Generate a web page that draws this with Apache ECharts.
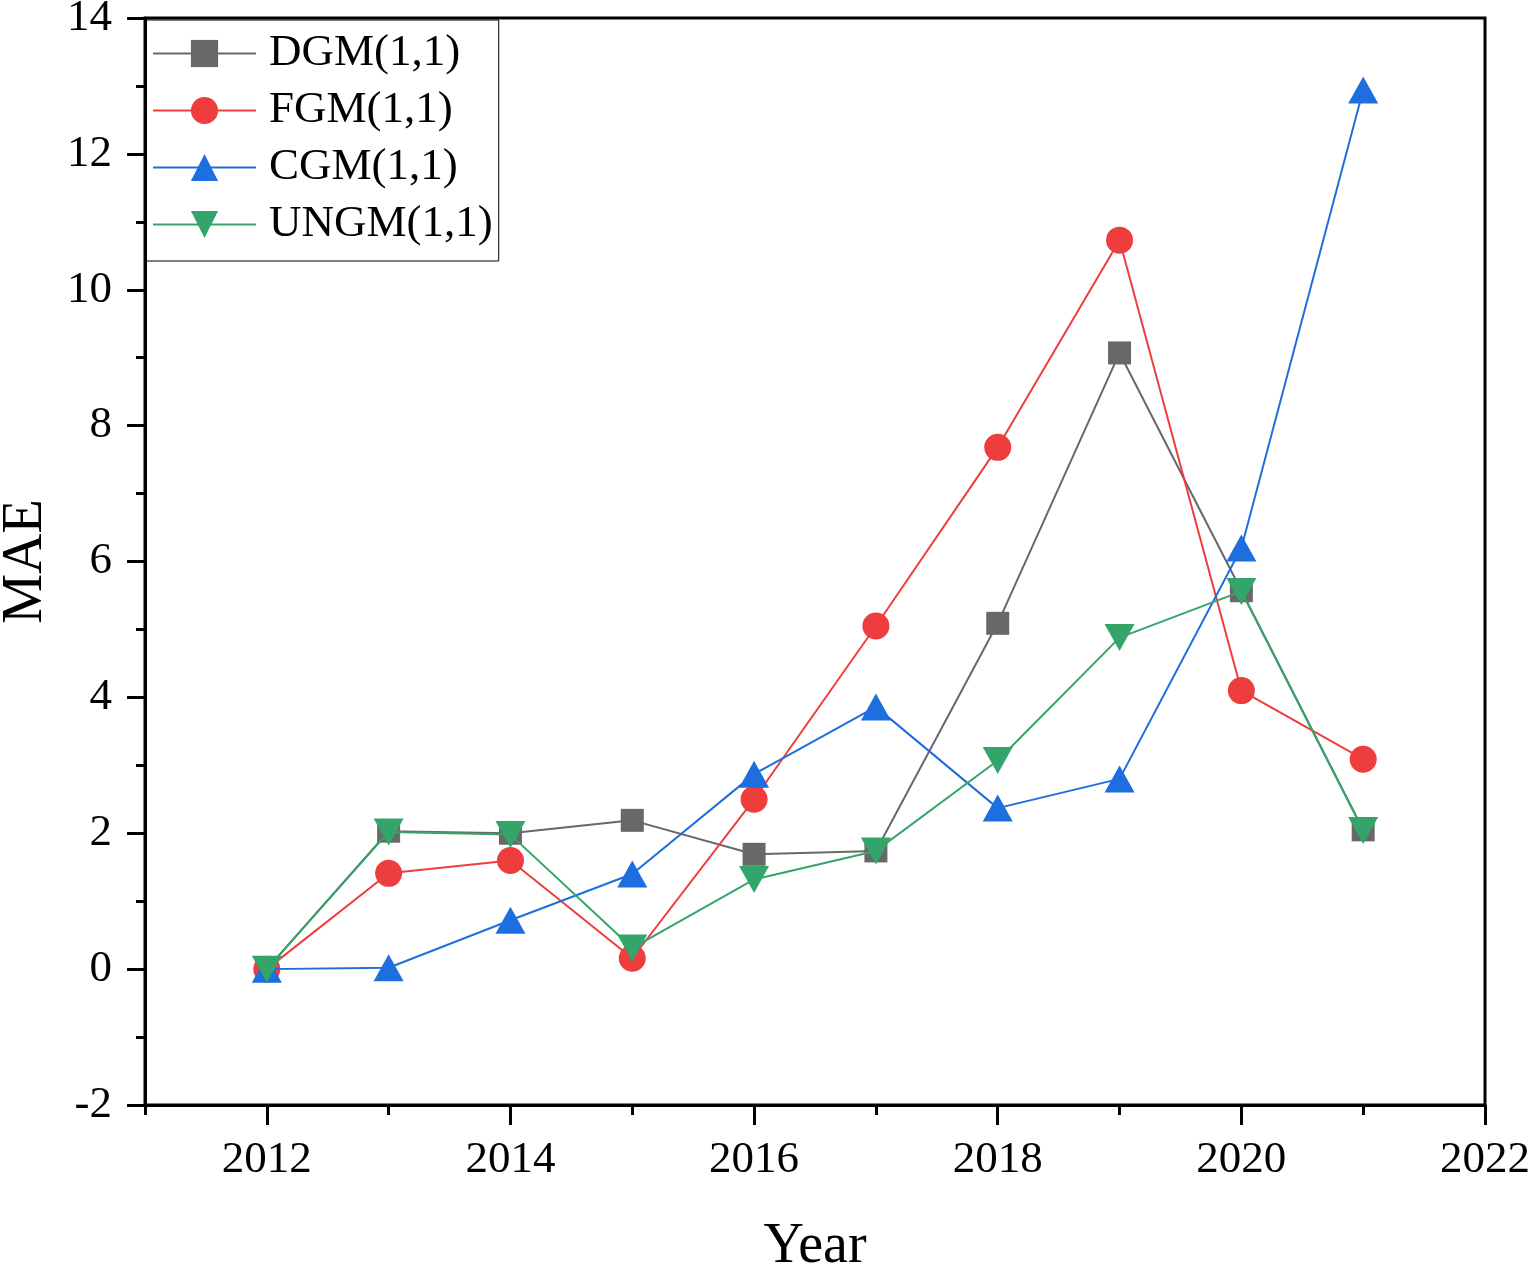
<!DOCTYPE html>
<html>
<head>
<meta charset="utf-8">
<script src="https://cdn.jsdelivr.net/npm/echarts@6/dist/echarts.min.js"></script>
<style>
html,body{margin:0;padding:0;background:#fff;}
#chart{width:1530px;height:1266px;}
</style>
</head>
<body>
<div id="chart"></div>
<script>
const years = [2012, 2013, 2014, 2015, 2016, 2017, 2018, 2019, 2020, 2021];
const dgm  = [0, 2.03, 2.00, 2.19, 1.69, 1.74, 5.09, 9.07, 5.57, 2.05];
const fgm  = [0, 1.41, 1.60, 0.16, 2.50, 5.05, 7.68, 10.73, 4.10, 3.09];
const cgm  = [0, 0.02, 0.72, 1.40, 2.87, 3.86, 2.37, 2.80, 6.20, 12.94];
const ungm = [0, 2.02, 1.98, 0.31, 1.32, 1.74, 3.07, 4.88, 5.56, 2.04];
const seriesNames = ['DGM(1,1)', 'FGM(1,1)', 'CGM(1,1)', 'UNGM(1,1)'];
const majorX = [2012, 2014, 2016, 2018, 2020, 2022];
const minorX = [2011, 2013, 2015, 2017, 2019, 2021];

const font = 'Liberation Serif, Times New Roman, serif';
const colors = ['#686868', '#ee3d3d', '#1d6ede', '#34a56a'];
const symbols = ['rect', 'circle', 'triangle', 'path://M0,0 L10,0 L5,9 Z'];
const sizes = [[23,23], 27, [30,27], [30,27]];
const datasets = [dgm, fgm, cgm, ungm];

const chart = echarts.init(document.getElementById('chart'));
chart.setOption({
  animation: false,
  backgroundColor: '#fff',
  grid: {left: 145, right: 45, top: 18, bottom: 161, containLabel: false, outerBoundsMode: 'none',
         show: true, borderColor: '#000', borderWidth: 3, backgroundColor: 'transparent'},
  legend: {
    orient: 'vertical', left: 146, top: 20,
    itemWidth: 103, itemHeight: 34, itemGap: 12,
    padding: [11, 6, 14, 6],
    borderColor: '#000', borderWidth: 1,
    textStyle: {fontFamily: font, fontSize: 45, color: '#000', padding: [0,0,0,8]},
    data: seriesNames
  },
  xAxis: [{
    type: 'value', min: 2011, max: 2022,
    name: 'Year', nameLocation: 'middle', nameGap: 114,
    nameTextStyle: {fontFamily: font, fontSize: 56, color: '#000'},
    axisLine: {show: true, onZero: false, lineStyle: {color: '#000', width: 3}},
    axisTick: {show: true, length: 20, lineStyle: {color: '#000', width: 3}, customValues: majorX},
    axisLabel: {fontFamily: font, fontSize: 45, color: '#000', margin: 33, customValues: majorX,
                formatter: v => String(v)},
    splitLine: {show: false}
  }, {
    type: 'value', min: 2011, max: 2022, position: 'bottom',
    axisLine: {show: false, onZero: false},
    axisTick: {show: true, length: 10, lineStyle: {color: '#000', width: 3}, customValues: minorX},
    axisLabel: {show: false},
    splitLine: {show: false}
  }],
  yAxis: {
    type: 'value', min: -2, max: 14, interval: 2,
    name: 'MAE', nameLocation: 'middle', nameGap: 91,
    nameTextStyle: {fontFamily: font, fontSize: 56, color: '#000'},
    axisLine: {show: true, onZero: false, lineStyle: {color: '#000', width: 3}},
    axisTick: {show: true, length: 18, lineStyle: {color: '#000', width: 3}},
    minorTick: {show: true, splitNumber: 2, length: 9, lineStyle: {color: '#000', width: 3}},
    axisLabel: {fontFamily: font, fontSize: 45, color: '#000', margin: 33, formatter: v => String(v)},
    splitLine: {show: false}
  },
  series: seriesNames.map((n, i) => ({
    name: n, type: 'line',
    data: years.map((y, k) => [y, datasets[i][k]]),
    symbol: symbols[i], symbolSize: sizes[i],
    lineStyle: {color: colors[i], width: 2},
    itemStyle: {color: colors[i]},
    z: 2 + i
  }))
});
</script>
</body>
</html>
